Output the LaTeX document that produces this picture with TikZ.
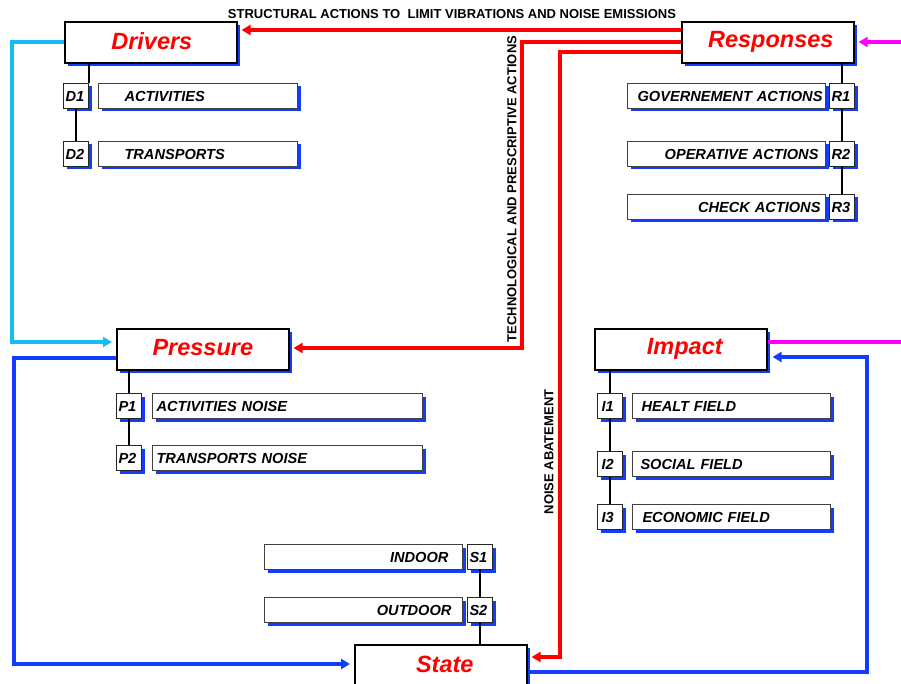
\documentclass[tikz,border=0pt]{standalone}
\usepackage{fontspec}
\setmainfont{Liberation Sans}
\usetikzlibrary{shadows,arrows.meta}
\definecolor{sblue}{RGB}{20,60,255}
\definecolor{scyan}{RGB}{20,190,245}
\definecolor{smag}{RGB}{255,0,255}
\definecolor{sred}{RGB}{255,0,0}
\newcommand{\rpad}[1]{\hspace*{#1}\mbox{}}
\begin{document}
\begin{tikzpicture}[x=1pt,y=-1pt,
  big/.style={draw=black, line width=1.6pt, fill=white, minimum width=172pt, minimum height=41pt,
    anchor=north west, inner sep=0pt, text=sred,
    font=\fontsize{23.5}{26}\selectfont\bfseries\itshape,
    general shadow={fill=sblue, shadow xshift=3.5pt, shadow yshift=-3.5pt}},
  tag/.style={draw=black!85, line width=1pt, fill=white, minimum width=25pt, minimum height=25pt,
    anchor=north west, inner sep=0pt, text width=25pt, align=left,
    font=\fontsize{14.6}{16}\selectfont\bfseries\itshape,
    general shadow={fill=sblue, shadow xshift=3pt, shadow yshift=-3pt}},
  item/.style={draw=black!75, line width=1pt, fill=white, minimum height=25pt,
    anchor=north west, inner sep=0pt, text width=#1,
    font=\fontsize{14.6}{16}\selectfont\bfseries\itshape,
    general shadow={fill=sblue, shadow xshift=3pt, shadow yshift=-3pt}},
  link/.style={draw=black, line width=1.5pt},
  tip/.style={-{Triangle[length=9pt,width=10pt]}},
  redline/.style={draw=sred, line width=4.5pt, tip, shorten >=4pt},
  cyanline/.style={draw=scyan, line width=4pt, tip, shorten >=4pt},
  blueline/.style={draw=sblue, line width=4.5pt, tip, shorten >=4pt},
  magline/.style={draw=smag, line width=4pt},
  lab/.style={font=\fontsize{13}{15}\selectfont\bfseries, inner sep=0pt}
]
\useasboundingbox (0,0) rectangle (901,684);
\clip (0,0) rectangle (901,684);

% main boxes
\node[big] (drv) at (64,21) {\raisebox{3pt}{\hspace*{2pt}Drivers}};
\node[big] (resp) at (681,21) {\raisebox{3pt}{\hspace*{6pt}Responses}};
\node[big] (pres) at (116,328) {\raisebox{3pt}{Pressure}};
\node[big] (imp) at (594,328) {\raisebox{3pt}{\hspace*{8pt}Impact}};
\node[big] (state) at (354,644) {\raisebox{3pt}{\hspace*{8pt}State}};

% drivers
\node[tag] (d1) at (63,83) {\hspace*{2pt}D1};
\node[item=199pt, align=left] (d1t) at (98,83) {\hspace*{26pt}ACTIVITIES};
\node[tag] (d2) at (63,141) {\hspace*{2pt}D2};
\node[item=199pt, align=left] (d2t) at (98,141) {\hspace*{26pt}TRANSPORTS};

% responses
\node[tag] (r1) at (829,83) {\hspace*{2pt}R1};
\node[item=198pt, align=right] (r1t) at (627,83) {GOVERNEMENT ACTIONS\rpad{3pt}};
\node[tag] (r2) at (829,141) {\hspace*{2pt}R2};
\node[item=198pt, align=right] (r2t) at (627,141) {OPERATIVE ACTIONS\rpad{7pt}};
\node[tag] (r3) at (829,194) {\hspace*{2pt}R3};
\node[item=198pt, align=right] (r3t) at (627,194) {CHECK ACTIONS\rpad{5pt}};

% pressure
\node[tag] (p1) at (116,393) {\hspace*{2pt}P1};
\node[item=270pt, align=left] (p1t) at (152,393) {\hspace*{4pt}ACTIVITIES NOISE};
\node[tag] (p2) at (116,445) {\hspace*{2pt}P2};
\node[item=270pt, align=left] (p2t) at (152,445) {\hspace*{4pt}TRANSPORTS NOISE};

% impact
\node[tag] (i1) at (597,393) {\hspace*{4pt}I1};
\node[item=198pt, align=left] (i1t) at (632,393) {\hspace*{9pt}HEALT FIELD};
\node[tag] (i2) at (597,451) {\hspace*{4pt}I2};
\node[item=198pt, align=left] (i2t) at (632,451) {\hspace*{8pt}SOCIAL FIELD};
\node[tag] (i3) at (597,504) {\hspace*{4pt}I3};
\node[item=198pt, align=left] (i3t) at (632,504) {\hspace*{10pt}ECONOMIC FIELD};

% state
\node[item=198pt, align=right] (s1t) at (264,544) {INDOOR\rpad{14pt}};
\node[tag] (s1) at (467,544) {\hspace*{2pt}S1};
\node[item=198pt, align=right] (s2t) at (264,597) {OUTDOOR\rpad{11pt}};
\node[tag] (s2) at (467,597) {\hspace*{2pt}S2};

% tree links
\draw[link] (drv.south -| d1.north east) -- (d1.north east);
\draw[link] (d1.south) -- (d2.north);
\draw[link] (resp.south -| r1.north) -- (r1.north);
\draw[link] (r1.south) -- (r2.north);
\draw[link] (r2.south) -- (r3.north);
\draw[link] (pres.south -| p1.north) -- (p1.north);
\draw[link] (p1.south) -- (p2.north);
\draw[link] (imp.south -| i1.north) -- (i1.north);
\draw[link] (i1.south) -- (i2.north);
\draw[link] (i2.south) -- (i3.north);
\draw[link] (s1.south) -- (s2.north);
\draw[link] (s2.south) -- (state.north -| s2.south);

% red arrows
\draw[redline] ([yshift=-9pt]resp.north west) -- ([yshift=-9pt]drv.north east);
\draw[redline] ([yshift=-21pt]resp.north west) -| (522,348) -- ([yshift=-20pt]pres.north east);
\draw[redline] ([yshift=-31pt]resp.north west) -| (560,657) -- ([yshift=-13pt]state.north east);

% cyan
\draw[cyanline] ([yshift=-21pt]drv.north west) -| (12,342) -- ([yshift=-14pt]pres.north west);
% blue
\draw[blueline] ([yshift=-30pt]pres.north west) -| (14,664) -- ([yshift=-20pt]state.north west);
\draw[blueline, shorten >=5pt] ([yshift=-28pt]state.north east) -| (867,357) -- ([yshift=-29pt]imp.north east);
% magenta
\draw[magline, tip, shorten >=4pt] (903,42) -- ([yshift=-21pt]resp.north east);
\draw[magline] ([yshift=-14pt]imp.north east) -- (903,342);

% labels
\node[lab] (ltop) at (452,14) {STRUCTURAL ACTIONS TO\ \ LIMIT VIBRATIONS AND NOISE EMISSIONS};
\node[lab, rotate=90] (ltech) at (512,189) {TECHNOLOGICAL AND PRESCRIPTIVE ACTIONS};
\node[lab, rotate=90] (lnoise) at (549,452) {NOISE ABATEMENT};
\end{tikzpicture}
\end{document}
